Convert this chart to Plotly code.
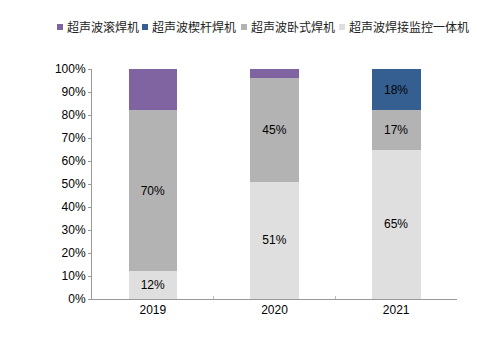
import plotly.graph_objects as go

years = ["2019", "2020", "2021"]
names = ["超声波焊接监控一体机", "超声波卧式焊机", "超声波楔杆焊机", "超声波滚焊机"]
colors = ["#DFDFDF", "#B3B3B3", "#355F91", "#8064A2"]
values = [
    [0.12, 0.51, 0.65],
    [0.70, 0.45, 0.17],
    [0.00, 0.00, 0.18],
    [0.18, 0.04, 0.00],
]
labels = [
    ["12%", "51%", "65%"],
    ["70%", "45%", "17%"],
    ["", "", "18%"],
    ["", "", ""],
]

W, H = 481, 338
L, R, T, B = 92, 24, 69, 39
pw, ph = W - L - R, H - T - B

def px_x(x):
    return (x - L) / pw

def px_y(y):
    return (H - B - y) / ph

fig = go.Figure()
for n, c, v, t in zip(names, colors, values, labels):
    fig.add_trace(go.Bar(
        x=years, y=v, name=n, marker=dict(color=c, line=dict(width=0)),
        text=t, textposition="inside", insidetextanchor="middle",
        textfont=dict(color="black", size=12, family="Liberation Sans, Arial"),
        hoverinfo="skip", showlegend=False,
    ))

# legend drawn manually (order: top of stack first)
legend_x = [57, 142, 241, 339]
legend_order = [3, 2, 1, 0]
for lx, i in zip(legend_x, legend_order):
    fig.add_shape(type="rect", xref="paper", yref="paper",
                  x0=px_x(lx), x1=px_x(lx + 6), y0=px_y(30), y1=px_y(24),
                  fillcolor=colors[i], line=dict(width=0))
    fig.add_annotation(text=names[i], xref="paper", yref="paper",
                       x=px_x(lx + 8), y=px_y(27), xanchor="left", yanchor="middle",
                       showarrow=False,
                       font=dict(family="Noto Sans CJK SC", size=12, color="#222"))

fig.update_layout(
    barmode="stack", bargap=0.6,
    width=W, height=H,
    margin=dict(l=L, r=R, t=T, b=B),
    plot_bgcolor="white", paper_bgcolor="white",
    font=dict(family="Liberation Sans, Arial, Noto Sans CJK SC", size=12, color="black"),
    uniformtext=dict(minsize=12, mode="show"),
    showlegend=False,
    xaxis=dict(
        showline=True, linecolor="#999", linewidth=1,
        ticks="inside", tickson="boundaries", ticklen=3, tickcolor="#bbb",
        showgrid=False,
    ),
    yaxis=dict(
        range=[0, 1], dtick=0.1, tickformat=".0%",
        showline=True, linecolor="#999", linewidth=1,
        ticks="outside", ticklen=3, tickcolor="#999",
        showgrid=False, zeroline=False,
    ),
)

fig.write_html("out.html")
